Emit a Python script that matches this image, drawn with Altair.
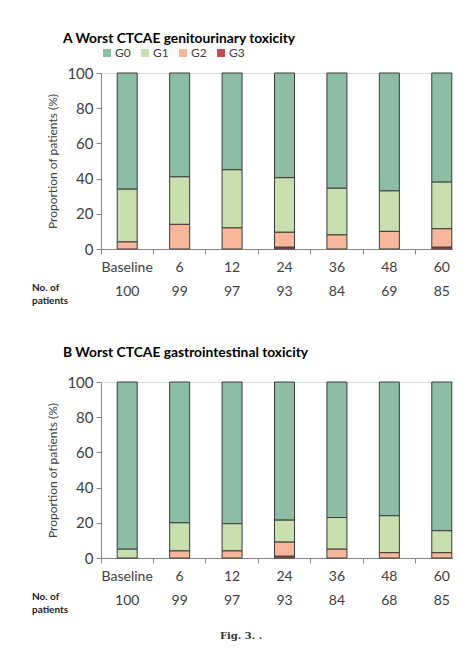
import altair as alt
import pandas as pd

timepoints = ["Baseline", "6", "12", "24", "36", "48", "60"]
grades = ["G0", "G1", "G2", "G3"]
colors = ["#8dbda4", "#c8dfb0", "#f8b79a", "#c0504d"]

gu_g0 = [66, 59, 55, 59.5, 65.5, 67, 62]
gu_g1 = [30, 27, 33, 31, 26.5, 23, 26.5]
gu_g2 = [4, 14, 12, 8.5, 8, 10, 10.5]
gu_g3 = [0, 0, 0, 1, 0, 0, 1]
gu_n = [100, 99, 97, 93, 84, 69, 85]

gi_g0 = [95, 80, 80.5, 78.5, 77, 76, 84.5]
gi_g1 = [5, 16, 15.5, 12.5, 18, 21, 12.5]
gi_g2 = [0, 4, 4, 8, 5, 3, 3]
gi_g3 = [0, 0, 0, 1, 0, 0, 0]
gi_n = [100, 99, 97, 93, 84, 68, 85]

FONT = "Lato"
W, H = 367, 176


def long_df(series):
    rows = []
    for gi, (g, vals) in enumerate(zip(grades, series)):
        for t, v in zip(timepoints, vals):
            rows.append({"time": t, "grade": g, "value": v, "ord": 3 - gi})
    return pd.DataFrame(rows)


def panel(series, counts, title, show_legend, title_offset):
    df = long_df(series)
    ndf = pd.DataFrame({"time": timepoints, "n": [str(c) for c in counts]})
    x = alt.X("time:N", sort=timepoints, title=None,
              scale=alt.Scale(paddingInner=0, paddingOuter=0),
              axis=alt.Axis(bandPosition=0, tickSize=5, labelPadding=6,
                            labelFont=FONT, labelFontSize=14, labelColor="#404040",
                            domainColor="#868686", tickColor="#868686", labelAngle=0))
    legend = (alt.Legend(orient="top", direction="horizontal", title=None,
                         symbolType="square", symbolSize=64, symbolStrokeWidth=0,
                         labelFont=FONT, labelFontSize=12, labelColor="#404040",
                         columnPadding=8, labelOffset=2, offset=14, padding=0)
              if show_legend else None)
    bars = alt.Chart(df).transform_filter("datum.value > 0").mark_bar(
        size=20, stroke="#3a3a3a", strokeWidth=1
    ).encode(
        x=x,
        y=alt.Y("value:Q", stack="zero", title="Proportion of patients (%)",
                scale=alt.Scale(domain=[0, 100], nice=False),
                axis=alt.Axis(values=[0, 20, 40, 60, 80, 100], tickSize=5, grid=False,
                              labelFont=FONT, labelFontSize=15, labelColor="#404040",
                              labelPadding=3, domainColor="#868686", tickColor="#868686",
                              titleFont=FONT, titleFontSize=12, titleFontWeight="normal",
                              titleColor="#404040", titlePadding=7)),
        color=alt.Color("grade:N", scale=alt.Scale(domain=grades, range=colors),
                        legend=legend),
        order=alt.Order("ord:Q"),
    )
    nums = alt.Chart(ndf).mark_text(font=FONT, fontSize=14, color="#404040",
                                    baseline="middle").encode(
        x=alt.X("time:N", sort=timepoints),
        y=alt.value(H + 43),
        text="n:N",
    )
    lab = alt.Chart(ndf).transform_filter("datum.time == 'Baseline'").mark_text(
        font=FONT, fontSize=10, fontWeight="bold", color="#1a1a1a", align="left",
        baseline="middle", lineBreak="\n", lineHeight=13
    ).encode(x=alt.value(-69), y=alt.value(H + 39), text=alt.value("No. of\npatients"))
    return alt.layer(bars, nums, lab).properties(
        width=W, height=H,
        title=alt.TitleParams(title, anchor="start", frame="group", dx=-38, fontSize=13.8,
                              font=FONT, fontWeight="bold", color="#000000",
                              offset=title_offset),
    )


pa = panel([gu_g0, gu_g1, gu_g2, gu_g3], gu_n, "A Worst CTCAE genitourinary toxicity", True, 1.5)
pb = panel([gi_g0, gi_g1, gi_g2, gi_g3], gi_n, "B Worst CTCAE gastrointestinal toxicity", False, 15)

cap_df = pd.DataFrame({"t": ["Fig. 3.  ."]})
cap = alt.Chart(cap_df).mark_text(font="DejaVu Serif", fontSize=10, fontWeight="bold",
                                  color="#333333", baseline="middle").encode(
    x=alt.value(140), y=alt.value(H + 78), text="t:N")
pb = alt.layer(pb, cap)

chart = alt.vconcat(pa, pb, spacing=38).resolve_scale(color="independent").resolve_legend(
    color="independent"
).properties(
    padding={"left": 23, "top": 23, "right": -16, "bottom": 0}
).configure_view(stroke=None).configure(background="#ffffff")

chart.save("out.html", embed_options={"renderer": "svg", "actions": False})
